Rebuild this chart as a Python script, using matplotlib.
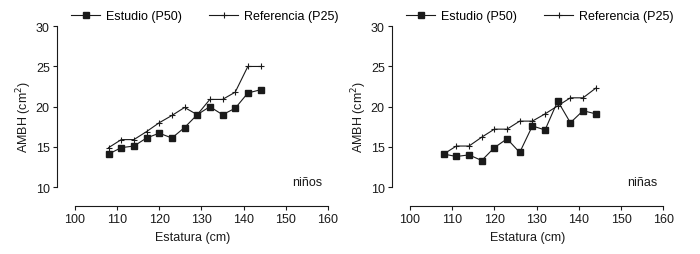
import matplotlib
matplotlib.use("Agg")
import matplotlib.pyplot as plt

plt.rcParams["font.family"] = ["Liberation Sans", "DejaVu Sans"]

# Estatura (cm)
estatura = [108, 111, 114, 117, 120, 123, 126, 129, 132, 135, 138, 141, 144]

# niños
ninos_estudio = [14.1, 14.9, 15.1, 16.1, 16.7, 16.1, 17.4, 19.0, 20.0, 19.0, 19.8, 21.7, 22.1]
ninos_ref     = [14.9, 15.9, 15.9, 16.9, 18.0, 18.9, 19.9, 19.0, 20.9, 20.9, 21.8, 25.0, 25.0]

# niñas
ninas_estudio = [14.1, 13.8, 14.0, 13.3, 14.9, 16.0, 14.3, 17.6, 17.1, 20.7, 18.0, 19.5, 19.1]
ninas_ref     = [14.1, 15.1, 15.1, 16.2, 17.2, 17.2, 18.2, 18.2, 19.1, 20.1, 21.1, 21.1, 22.3]

x_ticks = [100, 110, 120, 130, 140, 150, 160]
y_ticks = [10, 15, 20, 25, 30]

INK = "#1a1a1a"

fig = plt.figure(figsize=(7.0, 2.55), dpi=100)
ax_l = fig.add_axes([0.081, 0.187, 0.3876, 0.706])
ax_r = fig.add_axes([0.5596, 0.187, 0.388, 0.706])


def draw_panel(ax, est, ref, tag):
    ax.plot(estatura, est, color=INK, lw=0.8, marker="s", ms=3.8,
            mfc=INK, mec=INK, label="Estudio (P50)")
    ax.plot(estatura, ref, color=INK, lw=0.8, marker="+", ms=5,
            mew=0.8, label="Referencia (P25)")
    ax.set_xlim(95.7, 160)
    ax.set_ylim(7.6, 30)
    ax.set_xticks(x_ticks)
    ax.set_yticks(y_ticks)
    for s in ("top", "right"):
        ax.spines[s].set_visible(False)
    ax.spines["left"].set_bounds(10, 30)
    ax.spines["bottom"].set_bounds(100, 160)
    for s in ("left", "bottom"):
        ax.spines[s].set_linewidth(0.8)
        ax.spines[s].set_color(INK)
    ax.tick_params(direction="out", length=3, width=0.8, colors=INK,
                   labelsize=9, pad=2)
    ax.set_xlabel("Estatura (cm)", fontsize=9, color=INK, labelpad=4)
    ax.set_ylabel("AMBH (cm$^2$)", fontsize=9, color=INK, labelpad=1)
    ax.text(155, 10.6, tag, fontsize=9, color=INK, ha="center", va="center")
    ax.legend(loc="lower left", bbox_to_anchor=(0.038, 1.0), ncol=2,
              frameon=False, fontsize=9, handlelength=2.3,
              handletextpad=0.45, columnspacing=2.2, borderaxespad=0.35,
              borderpad=0.0)


draw_panel(ax_l, ninos_estudio, ninos_ref, "niños")
draw_panel(ax_r, ninas_estudio, ninas_ref, "niñas")

fig.savefig("out.png", dpi=100, facecolor="white")
